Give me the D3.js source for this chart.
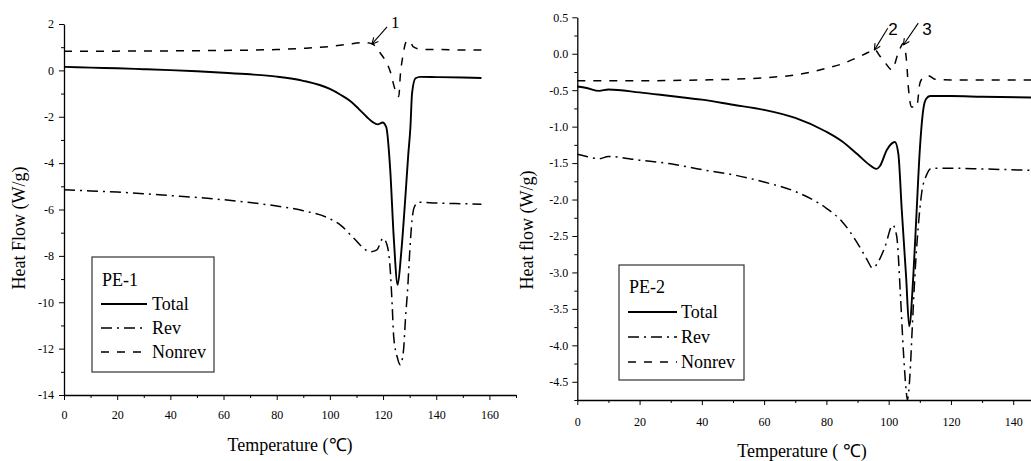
<!DOCTYPE html>
<html><head><meta charset="utf-8">
<script src="https://cdn.jsdelivr.net/npm/d3@7"></script>
<style>
body{margin:0;background:#fff;}
svg{display:block;}
</style></head>
<body><svg id="c" width="1031" height="461"></svg>
<script>
// ---------- PE-1 data ----------
const pe1TotalT = [0,10,20,30,40,50,60,70,80,90,100,104,108,111,114,116,118,119.8,121.2,122.7,124,125.5,126.8,128.4,129.5,130.3,130.9,132.2,134,140,150,157];
const pe1TotalV = [0.15,0.12,0.09,0.05,0.01,-0.04,-0.1,-0.17,-0.27,-0.45,-0.8,-1.05,-1.35,-1.68,-2.02,-2.22,-2.33,-2.25,-2.45,-4.3,-7.17,-9.25,-7.9,-5.45,-3.6,-2.43,-0.99,-0.34,-0.28,-0.29,-0.31,-0.33];
const pe1RevT = [0,10,20,30,40,50,60,70,80,90,100,104,109,115.2,117.7,120,121.5,122.7,123.4,124,125.3,126.5,127.7,128.4,129.3,130,130.9,131.8,133.4,140,150,157];
const pe1RevV = [-5.15,-5.2,-5.25,-5.32,-5.4,-5.48,-5.58,-5.7,-5.85,-6.05,-6.4,-6.67,-7.24,-7.82,-7.74,-7.24,-7.53,-8.6,-10.04,-11.48,-12.35,-12.7,-12.06,-10.76,-9.33,-7.89,-6.45,-5.88,-5.69,-5.72,-5.75,-5.77];
const pe1NonT = [0,20,40,60,80,90,100,106.4,112.7,115.8,119,122.7,124.6,125.9,126.5,127.4,129,130.3,131.3,134.7,140,150,157];
const pe1NonV = [0.82,0.83,0.84,0.86,0.9,0.95,1.03,1.12,1.2,1.15,0.74,-0.05,-0.85,-1.13,-0.2,0.59,1.28,1.24,1.02,0.9,0.9,0.88,0.88];

// ---------- PE-2 data ----------
const pe2TotalT = [0,3,7,10,20,30,40,50,60,70,80,85,90,94,96.1,97.2,99.4,102,103.1,104.2,105.6,106.6,107.9,109,110,111.1,112,113.3,120,130,146];
const pe2TotalV = [-0.45,-0.47,-0.51,-0.49,-0.53,-0.58,-0.63,-0.7,-0.77,-0.88,-1.07,-1.2,-1.38,-1.53,-1.58,-1.54,-1.32,-1.21,-1.37,-2.14,-3.06,-3.74,-3.06,-2.14,-1.32,-0.77,-0.62,-0.58,-0.58,-0.59,-0.6];
const pe2RevT = [0,3,7,10,20,30,40,50,60,70,80,85,90,93,94.8,97.2,98.8,101.3,102.6,103.8,104.7,105.6,106,106.8,107.6,108.4,109.5,110.6,112.2,113.8,120,130,146];
const pe2RevV = [-1.38,-1.41,-1.44,-1.41,-1.46,-1.51,-1.59,-1.66,-1.76,-1.89,-2.12,-2.3,-2.6,-2.82,-2.94,-2.81,-2.65,-2.35,-2.51,-3.33,-4.06,-4.61,-4.75,-4.43,-3.74,-3.06,-2.37,-1.91,-1.66,-1.57,-1.57,-1.58,-1.6];
const pe2NonT = [0,20,40,50,60,70,80,85,90,94,95.5,97,99,101,103.1,104.7,105.8,106.3,107.4,109,110,111,112.7,114.9,120,146];
const pe2NonV = [-0.37,-0.37,-0.36,-0.35,-0.33,-0.29,-0.2,-0.14,-0.05,0.03,0.06,-0.02,-0.13,-0.22,0.01,0.14,-0.13,-0.45,-0.73,-0.73,-0.41,-0.33,-0.3,-0.35,-0.36,-0.36];

// ---------- ticks ----------
const pe1XTicks = [0,20,40,60,80,100,120,140,160];
const pe1XMinor = [10,30,50,70,90,110,130,150,170];
const pe1YTicks = [2,0,-2,-4,-6,-8,-10,-12,-14];
const pe1YMinor = [1,-1,-3,-5,-7,-9,-11,-13];
const pe2XTicks = [0,20,40,60,80,100,120,140];
const pe2XMinor = [10,30,50,70,90,110,130];
const pe2YTicks = [0.5,0,-0.5,-1,-1.5,-2,-2.5,-3,-3.5,-4,-4.5];
const pe2YMinor = [0.25,-0.25,-0.75,-1.25,-1.75,-2.25,-2.75,-3.25,-3.75,-4.25,-4.75];

// ---------- legend / annotations ----------
const seriesNames = ["Total","Rev","Nonrev"];
const pe1Annot = [{label:"1", lx:124.6, ly:2.08, tx:121.5, ty:1.88, hx:115.8, hy:1.13}];
const pe2Annot = [
  {label:"2", lx:101.4, ly:0.33, tx:99.7, ty:0.35, hx:95.4, hy:0.05},
  {label:"3", lx:112.3, ly:0.33, tx:109.5, ty:0.42, hx:104.7, hy:0.12}
];

const SERIF = '"Liberation Serif","Times New Roman",serif';
const SANS = '"Liberation Sans",Arial,sans-serif';

const styles = {
  Total:{dash:null, w:1.9},
  Rev:{dash:"11,5,2,5", w:1.5},
  Nonrev:{dash:"8,8", w:1.5}
};

const svg = d3.select("#c");
const hyph = f => (d => f(d).replace("\u2212","-"));

function panel(cfg){
  const g = svg.append("g");
  const x = d3.scaleLinear().domain(cfg.xDom).range(cfg.xRange);
  const y = d3.scaleLinear().domain(cfg.yDom).range(cfg.yRange);
  // axes
  g.append("g").attr("transform",`translate(0,${cfg.yRange[0]})`)
    .call(d3.axisBottom(x).tickValues(cfg.xTicks).tickSize(5).tickSizeOuter(0).tickPadding(cfg.xPad).tickFormat(hyph(d3.format("d"))));
  g.append("g").attr("transform",`translate(0,${cfg.yRange[0]})`)
    .call(d3.axisBottom(x).tickValues(cfg.xMinor).tickSize(3).tickFormat(""))
    .select(".domain").remove();
  g.append("g").attr("transform",`translate(${cfg.xRange[0]},0)`)
    .call(d3.axisLeft(y).tickValues(cfg.yTicks).tickSize(5).tickSizeOuter(0).tickPadding(cfg.yPad).tickFormat(hyph(cfg.yFmt)));
  g.append("g").attr("transform",`translate(${cfg.xRange[0]},0)`)
    .call(d3.axisLeft(y).tickValues(cfg.yMinor).tickSize(3).tickFormat(""))
    .select(".domain").remove();
  g.selectAll(".domain").attr("stroke","#000").attr("stroke-width",1.3);
  g.selectAll(".tick line").attr("stroke","#000").attr("stroke-width",1);
  g.selectAll(".tick text").style("font-family",SERIF).style("font-size","12px").attr("fill","#000");

  // curves
  const line = d3.line().x(d=>x(d[0])).y(d=>y(d[1])).curve(d3.curveMonotoneX);
  cfg.series.forEach(s=>{
    const pts = s.t.map((t,i)=>[t,s.v[i]]);
    const st = styles[s.name];
    g.append("path").datum(pts).attr("d",line)
      .attr("fill","none").attr("stroke","#000").attr("stroke-width",st.w)
      .attr("stroke-dasharray",st.dash).attr("stroke-linejoin","round");
  });

  const txt = (sel)=>sel.style("font-family",SERIF).attr("fill","#000");
  // axis titles
  g.append("text").attr("transform",`translate(${cfg.yTitlePos[0]},${cfg.yTitlePos[1]}) rotate(-90)`)
    .attr("text-anchor","middle").attr("dominant-baseline","central")
    .style("font-size","18px").call(txt).text(cfg.yTitle);
  g.append("text").attr("x",cfg.xTitlePos[0]).attr("y",cfg.xTitlePos[1])
    .attr("text-anchor","middle").style("font-size","18px").call(txt).text(cfg.xTitle);

  // legend
  const L = cfg.legend;
  g.append("rect").attr("x",L.x).attr("y",L.y).attr("width",L.w).attr("height",L.h)
    .attr("fill","#fff").attr("stroke","#333").attr("stroke-width",1.2);
  g.append("text").attr("x",L.x+10).attr("y",L.y+L.first).style("font-size","18px").call(txt).text(cfg.name);
  seriesNames.forEach((n,i)=>{
    const yy = L.y + L.first + (i+1)*L.step;
    const st = styles[n];
    g.append("line").attr("x1",L.x+L.l1).attr("x2",L.x+L.l2).attr("y1",yy-6).attr("y2",yy-6)
      .attr("stroke","#000").attr("stroke-width",st.w).attr("stroke-dasharray",st.dash);
    g.append("text").attr("x",L.x+L.tx).attr("y",yy).style("font-size","18px").call(txt).text(n);
  });

  // annotations
  cfg.annot.forEach(a=>{
    g.append("line").attr("x1",x(a.tx)).attr("y1",y(a.ty)).attr("x2",x(a.hx)).attr("y2",y(a.hy))
      .attr("stroke","#000").attr("stroke-width",1.1);
    const ang = Math.atan2(y(a.hy)-y(a.ty), x(a.hx)-x(a.tx));
    [0.45,-0.45].forEach(da=>{
      const a2 = ang+Math.PI+da;
      g.append("line").attr("x1",x(a.hx)).attr("y1",y(a.hy))
        .attr("x2",x(a.hx)+7*Math.cos(a2)).attr("y2",y(a.hy)+7*Math.sin(a2))
        .attr("stroke","#000").attr("stroke-width",1.1);
    });
    g.append("text").attr("x",x(a.lx)).attr("y",y(a.ly)).attr("text-anchor","middle")
      .attr("dominant-baseline","central").attr("fill","#000")
      .style("font-family",cfg.annotFont).style("font-size","17px").text(a.label);
  });
}

panel({
  name:"PE-1",
  xDom:[0,170], xRange:[64,516], yDom:[-14,2], yRange:[395,24],
  xTicks:pe1XTicks, xMinor:pe1XMinor, yTicks:pe1YTicks, yMinor:pe1YMinor,
  yFmt:d3.format("d"), xPad:10, yPad:5,
  series:[{name:"Total",t:pe1TotalT,v:pe1TotalV},{name:"Rev",t:pe1RevT,v:pe1RevV},{name:"Nonrev",t:pe1NonT,v:pe1NonV}],
  yTitle:"Heat Flow (W/g)", yTitlePos:[19,228],
  xTitle:"Temperature (℃)", xTitlePos:[290,451],
  legend:{x:92,y:257,w:122,h:115,first:29,step:24,l1:9,l2:55,tx:60},
  annot:pe1Annot, annotFont:SERIF
});

panel({
  name:"PE-2",
  xDom:[0,146], xRange:[577.3,1031.9], yDom:[-4.75,0.5], yRange:[400,17.3],
  xTicks:pe2XTicks, xMinor:pe2XMinor, yTicks:pe2YTicks, yMinor:pe2YMinor,
  yFmt:d3.format(".1f"), xPad:12, yPad:4,
  series:[{name:"Total",t:pe2TotalT,v:pe2TotalV},{name:"Rev",t:pe2RevT,v:pe2RevV},{name:"Nonrev",t:pe2NonT,v:pe2NonV}],
  yTitle:"Heat flow (W/g)", yTitlePos:[527,230],
  xTitle:"Temperature ( ℃)", xTitlePos:[802,457],
  legend:{x:619,y:265,w:125,h:115,first:28,step:25,l1:9,l2:58,tx:62},
  annot:pe2Annot, annotFont:SANS
});
</script></body></html>
